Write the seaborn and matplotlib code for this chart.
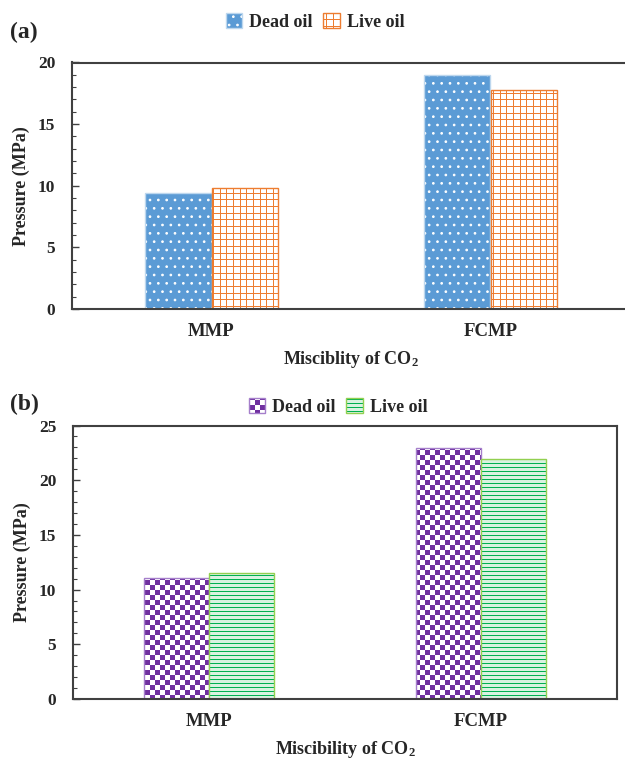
import numpy as np
import pandas as pd
import matplotlib
matplotlib.use("Agg")
import matplotlib.pyplot as plt
import matplotlib.hatch as mhatch
from matplotlib.path import Path
from matplotlib.colors import to_rgba
from matplotlib.ticker import MultipleLocator
import seaborn as sns

# ---------------- data ----------------
categories = ["MMP", "FCMP"]
series = ["Dead oil", "Live oil"]
dead_a = [9.4, 19.0]
live_a = [9.8, 17.8]
dead_b = [11.1, 22.9]
live_b = [11.5, 21.9]
xlabel_a = "Misciblity of CO$_2$"
xlabel_b = "Miscibility of CO$_2$"
ylabel = "Pressure (MPa)"


# ------------- pixel-aligned hatch patterns -------------
class Checker(mhatch.HatchPatternBase):
    """Checkerboard, triggered by 'O'."""
    def __init__(self, hatch, density):
        self.n = 20 * hatch.count("O")
        self.num_vertices = (self.n * self.n // 2) * 5 if self.n else 0

    def set_vertices_and_codes(self, vertices, codes):
        s = 1.0 / self.n
        d = 0.005
        sq = np.array([[d, d], [s - d, d], [s - d, s - d], [d, s - d], [d, d]])
        parts = []
        for i in range(self.n):
            for j in range(self.n):
                if (i + j) % 2 == 0:
                    parts.append(sq + [i * s, j * s])
        vertices[:] = np.concatenate(parts)
        c = np.array([Path.MOVETO, Path.LINETO, Path.LINETO, Path.LINETO,
                      Path.CLOSEPOLY])
        codes[:] = np.tile(c, len(parts))


class PixLines(mhatch.HatchPatternBase):
    horizontal = True

    def __init__(self, hatch, density):
        ch = "-" if self.horizontal else "|"
        self.num_lines = (hatch.count(ch) + hatch.count("+")) * 5
        self.num_vertices = self.num_lines * 2

    def set_vertices_and_codes(self, vertices, codes):
        n = self.num_lines
        pos = (np.floor(np.arange(n) * 100.0 / n) + 0.5) / 100.0
        if self.horizontal:
            vertices[0::2, 0] = 0.0
            vertices[1::2, 0] = 1.0
            vertices[0::2, 1] = pos
            vertices[1::2, 1] = pos
        else:
            vertices[0::2, 1] = 0.0
            vertices[1::2, 1] = 1.0
            vertices[0::2, 0] = pos
            vertices[1::2, 0] = pos
        codes[0::2] = Path.MOVETO
        codes[1::2] = Path.LINETO


class PixH(PixLines):
    horizontal = True


class PixV(PixLines):
    horizontal = False


_keep = [t for t in mhatch._hatch_types
         if t not in (mhatch.LargeCircles, mhatch.HorizontalHatch,
                      mhatch.VerticalHatch)]
mhatch._hatch_types = _keep + [PixH, PixV, Checker]

# ---------------- style ----------------
sns.set_theme(style="white")
plt.rcParams["font.family"] = ["Liberation Serif", "DejaVu Serif"]
plt.rcParams["font.weight"] = "bold"
plt.rcParams["axes.labelweight"] = "bold"
plt.rcParams["mathtext.fontset"] = "custom"
plt.rcParams["mathtext.rm"] = "Liberation Serif:bold"
plt.rcParams["mathtext.it"] = "Liberation Serif:bold"
plt.rcParams["mathtext.bf"] = "Liberation Serif:bold"
plt.rcParams["hatch.linewidth"] = 0.72

fig = plt.figure(figsize=(6.25, 7.59), dpi=100)
ax_a = fig.add_axes([72 / 625, (759 - 309) / 759, 558 / 625, 246.5 / 759])
ax_b = fig.add_axes([73 / 625, (759 - 699) / 759, 544 / 625, 273.5 / 759])

styles_a = [
    dict(face="#5B9BD5", edge="#BDD7EE", hatch="..", hcolor="white"),
    dict(face="white", edge="#ED7D31", hatch="+++", hcolor="#ED7D31"),
]
styles_b = [
    dict(face="white", edge="#A57FCB", hatch="O", hcolor="#7030A0"),
    dict(face="#D8F2E0", edge="#92D050", hatch="-----", hcolor="#00B050"),
]


def panel(ax, dead, live, styles, xlabel, ymax, legend_xy):
    df = pd.DataFrame({
        "cat": categories * 2,
        "val": list(dead) + list(live),
        "oil": [series[0]] * len(categories) + [series[1]] * len(categories),
    })
    sns.barplot(data=df, x="cat", y="val", hue="oil", ax=ax, width=0.48,
                palette=[s["face"] for s in styles], saturation=1,
                errorbar=None, legend=False)
    handles = []
    for cont, st in zip(ax.containers, styles):
        for p in cont.patches:
            p.set_facecolor(st["face"])
            p.set_edgecolor(st["edge"])
            p.set_linewidth(1.0)
            p.set_hatch(st["hatch"])
            p._hatch_color = to_rgba(st["hcolor"])
        handles.append(cont)
    ax.set_xlim(-0.5, 1.5)
    ax.set_ylim(0, ymax)
    ax.yaxis.set_major_locator(MultipleLocator(5))
    ax.yaxis.set_minor_locator(MultipleLocator(1))
    ax.tick_params(axis="y", which="major", direction="in", length=5,
                   width=1.0, color="#404040", labelsize=12.5, pad=12, left=True)
    ax.tick_params(axis="y", which="minor", direction="in", length=3,
                   width=0.8, color="#404040", left=True)
    ax.tick_params(axis="x", length=0, labelsize=13.5, pad=10)
    for lab in ax.get_xticklabels() + ax.get_yticklabels():
        lab.set_fontweight("bold")
    for sp in ax.spines.values():
        sp.set_visible(True)
        sp.set_color("#404040")
        sp.set_linewidth(1.5)
    ax.set_xlabel(xlabel, fontsize=13, fontweight="bold", labelpad=6.5)
    ax.set_ylabel(ylabel, fontsize=13, fontweight="bold", labelpad=6)
    fig.legend(handles, series, loc="center",
               bbox_to_anchor=(legend_xy[0] / 625, 1 - legend_xy[1] / 759),
               ncol=2, frameon=False, handlelength=0.9, handleheight=0.9,
               handletextpad=0.4, columnspacing=0.6,
               prop=dict(family="Liberation Serif", weight="bold", size=13))
    return ax


panel(ax_a, dead_a, live_a, styles_a, xlabel_a, 20, (315, 22))
panel(ax_b, dead_b, live_b, styles_b, xlabel_b, 25, (338, 407))

fig.text(10 / 625, 1 - 32 / 759, "(a)", fontsize=17, fontweight="bold",
         va="center", ha="left")
fig.text(10 / 625, 1 - 404 / 759, "(b)", fontsize=17, fontweight="bold",
         va="center", ha="left")

fig.savefig("out.png", dpi=100)
